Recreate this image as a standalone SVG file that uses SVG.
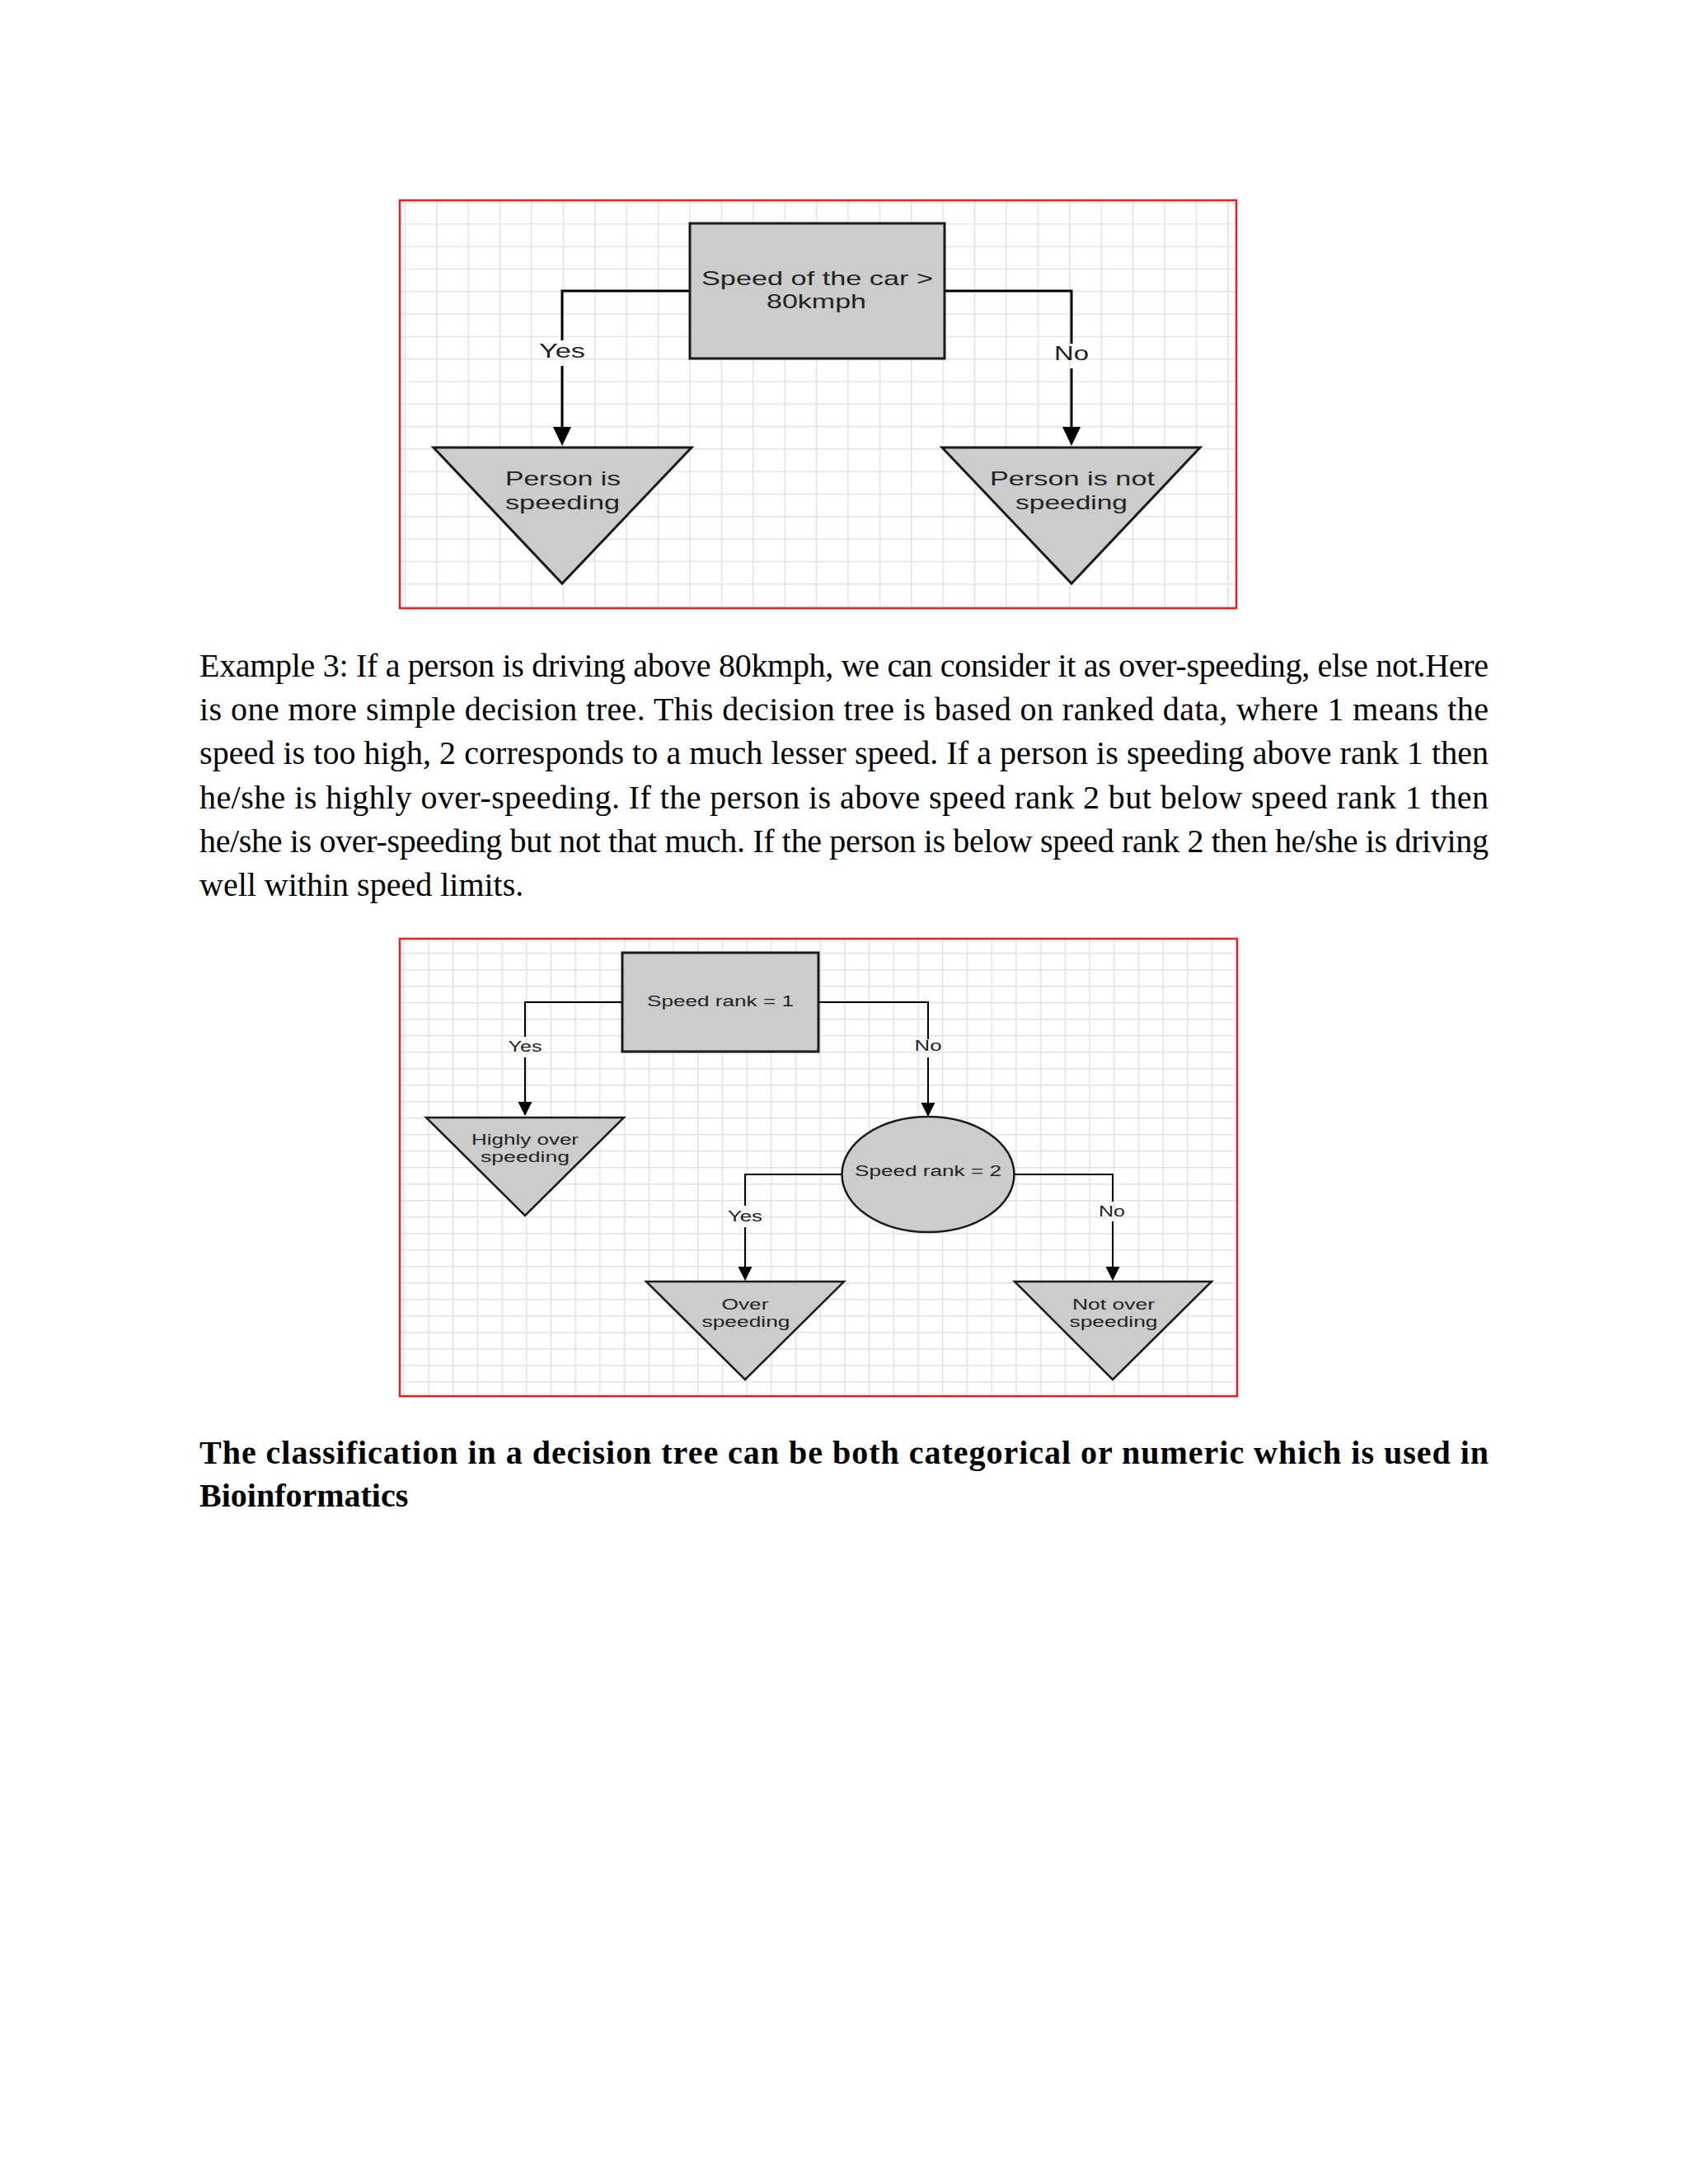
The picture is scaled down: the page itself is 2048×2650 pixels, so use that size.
<svg xmlns="http://www.w3.org/2000/svg" width="2048" height="2650" viewBox="0 0 2048 2650">
<style>
.frame{fill:none;stroke:#e02424;stroke-width:2.5}
.shape1{fill:#cccccc;stroke:#1a1a1a;stroke-width:3}
.shape2{fill:#cccccc;stroke:#1a1a1a;stroke-width:2.5}
.c1{fill:none;stroke:#000;stroke-width:3}
.c2{fill:none;stroke:#000;stroke-width:2}
.t1{font-family:"Liberation Sans",Arial,sans-serif;font-size:24px;fill:#222;text-anchor:middle}
.t2{font-family:"Liberation Sans",Arial,sans-serif;font-size:18px;fill:#222;text-anchor:middle}
.para{font-family:"Liberation Serif","Times New Roman",serif;font-size:40px;fill:#000}
.bold{font-family:"Liberation Serif","Times New Roman",serif;font-size:40px;font-weight:bold;fill:#000}
.grid{fill:none;stroke:#e3e3e3;stroke-width:1.5}
</style>
<defs>
<pattern id="g1" patternUnits="userSpaceOnUse" x="529" y="353" width="38.4" height="27.3">
<path class="grid" d="M0.75,0 V27.3 M0,0.75 H38.4"/>
</pattern>
<pattern id="g2" patternUnits="userSpaceOnUse" x="519.3" y="1156" width="29.7" height="20">
<path class="grid" d="M0.75,0 V20 M0,0.75 H29.7"/>
</pattern>
<marker id="a1" markerUnits="userSpaceOnUse" markerWidth="24" markerHeight="24" refX="0" refY="11" orient="auto">
<path d="M0,0 L23,11 L0,22 Z" fill="#000"/>
</marker>
<marker id="a2" markerUnits="userSpaceOnUse" markerWidth="18" markerHeight="18" refX="0" refY="8.5" orient="auto">
<path d="M0,0 L17,8.5 L0,17 Z" fill="#000"/>
</marker>
</defs>
<rect width="2048" height="2650" fill="#fff"/>

<!-- Diagram 1 -->
<g id="diagram1">
<rect x="485" y="243" width="1015" height="495" fill="#fff"/>
<rect x="486" y="244" width="1013" height="493" fill="url(#g1)"/>
<rect class="frame" x="485" y="243" width="1015" height="495"/>
</g>
<g id="connectors1">
<path class="c1" d="M837,353 H682 V413"/>
<path class="c1" d="M682,444 V518" marker-end="url(#a1)"/>
<path class="c1" d="M1146,353 H1300 V417"/>
<path class="c1" d="M1300,447 V518" marker-end="url(#a1)"/>
<text class="t1" x="682" y="434" textLength="56" lengthAdjust="spacingAndGlyphs">Yes</text>
<text class="t1" x="1300" y="437" textLength="42" lengthAdjust="spacingAndGlyphs">No</text>
</g>
<g id="node-speed-car">
<rect class="shape1" x="837" y="271" width="309" height="164"/>
<text class="t1" x="991.5" y="346" textLength="281" lengthAdjust="spacingAndGlyphs">Speed of the car &gt;</text>
<text class="t1" x="990.5" y="374" textLength="121" lengthAdjust="spacingAndGlyphs">80kmph</text>
</g>
<g id="node-speeding">
<polygon class="shape1" points="526,543 839,543 682,708"/>
<text class="t1" x="683" y="589" textLength="140" lengthAdjust="spacingAndGlyphs">Person is</text>
<text class="t1" x="682.5" y="618" textLength="139" lengthAdjust="spacingAndGlyphs">speeding</text>
</g>
<g id="node-not-speeding">
<polygon class="shape1" points="1143,543 1456,543 1300,708"/>
<text class="t1" x="1301" y="589" textLength="200" lengthAdjust="spacingAndGlyphs">Person is not</text>
<text class="t1" x="1300" y="618" textLength="136" lengthAdjust="spacingAndGlyphs">speeding</text>
</g>

<!-- Paragraph -->
<g id="paragraph">
<text class="para" x="242" y="821" textLength="1564" lengthAdjust="spacing">Example 3: If a person is driving above 80kmph, we can consider it as over-speeding, else not.Here</text>
<text class="para" x="242" y="874" textLength="1564" lengthAdjust="spacing">is one more simple decision tree. This decision tree is based on ranked data, where 1 means the</text>
<text class="para" x="242" y="927" textLength="1564" lengthAdjust="spacing">speed is too high, 2 corresponds to a much lesser speed. If a person is speeding above rank 1 then</text>
<text class="para" x="242" y="981" textLength="1564" lengthAdjust="spacing">he/she is highly over-speeding. If the person is above speed rank 2 but below speed rank 1 then</text>
<text class="para" x="242" y="1034" textLength="1564" lengthAdjust="spacing">he/she is over-speeding but not that much. If the person is below speed rank 2 then he/she is driving</text>
<text class="para" x="242" y="1087">well within speed limits.</text>
</g>

<!-- Diagram 2 -->
<g id="diagram2">
<rect x="485" y="1139" width="1016" height="555" fill="#fff"/>
<rect x="486" y="1140" width="1014" height="553" fill="url(#g2)"/>
<rect class="frame" x="485" y="1139" width="1016" height="555"/>
</g>
<g id="connectors2">
<path class="c2" d="M755,1216 H637 V1258"/>
<path class="c2" d="M637,1283 V1337" marker-end="url(#a2)"/>
<path class="c2" d="M993,1216 H1126 V1261"/>
<path class="c2" d="M1126,1283 V1338" marker-end="url(#a2)"/>
<path class="c2" d="M1022,1425 H904 V1463"/>
<path class="c2" d="M904,1489 V1537" marker-end="url(#a2)"/>
<path class="c2" d="M1231,1425 H1350 V1458"/>
<path class="c2" d="M1350,1482 V1537" marker-end="url(#a2)"/>
<text class="t2" x="637" y="1276" textLength="41" lengthAdjust="spacingAndGlyphs">Yes</text>
<text class="t2" x="1126" y="1275" textLength="33" lengthAdjust="spacingAndGlyphs">No</text>
<text class="t2" x="904" y="1482" textLength="42" lengthAdjust="spacingAndGlyphs">Yes</text>
<text class="t2" x="1349" y="1476" textLength="32" lengthAdjust="spacingAndGlyphs">No</text>
</g>
<g id="node-rank1">
<rect class="shape2" x="755" y="1156" width="238" height="120" style="stroke-width:3"/>
<text class="t2" x="874" y="1221" textLength="178" lengthAdjust="spacingAndGlyphs">Speed rank = 1</text>
</g>
<g id="node-highly-over">
<polygon class="shape2" points="517,1356 757,1356 637,1475"/>
<text class="t2" x="637" y="1389" textLength="130" lengthAdjust="spacingAndGlyphs">Highly over</text>
<text class="t2" x="637" y="1410" textLength="108" lengthAdjust="spacingAndGlyphs">speeding</text>
</g>
<g id="node-rank2">
<ellipse class="shape2" cx="1126" cy="1425" rx="104.5" ry="70"/>
<text class="t2" x="1126" y="1427" textLength="178" lengthAdjust="spacingAndGlyphs">Speed rank = 2</text>
</g>
<g id="node-over">
<polygon class="shape2" points="784,1555 1024,1555 904,1674"/>
<text class="t2" x="904" y="1589" textLength="57" lengthAdjust="spacingAndGlyphs">Over</text>
<text class="t2" x="905" y="1610" textLength="107" lengthAdjust="spacingAndGlyphs">speeding</text>
</g>
<g id="node-not-over">
<polygon class="shape2" points="1231,1555 1470,1555 1350,1674"/>
<text class="t2" x="1351" y="1589" textLength="100" lengthAdjust="spacingAndGlyphs">Not over</text>
<text class="t2" x="1351" y="1610" textLength="107" lengthAdjust="spacingAndGlyphs">speeding</text>
</g>

<!-- Conclusion -->
<g id="conclusion">
<text class="bold" x="242" y="1776" textLength="1564" lengthAdjust="spacing">The classification in a decision tree can be both categorical or numeric which is used in</text>
<text class="bold" x="242" y="1828">Bioinformatics</text>
</g>
</svg>
